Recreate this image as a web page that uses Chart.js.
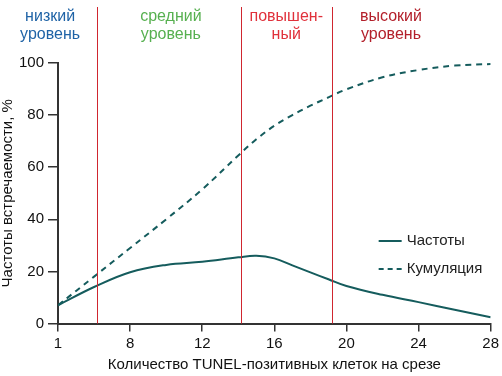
<!DOCTYPE html>
<html lang="ru">
<head>
<meta charset="UTF-8">
<title>TUNEL</title>
<script src="https://cdn.jsdelivr.net/npm/chart.js"></script>
<style>
  html, body { margin: 0; padding: 0; background: #fff; }
  #wrap { position: relative; width: 502px; height: 376px; }
</style>
</head>
<body>
<div id="wrap"><canvas id="chart" width="502" height="376"></canvas></div>
<script>
// x positions on the axis (the first tick sits where 4 would be, labelled "1")
const counts = [4, 6, 8, 10, 12, 14, 15, 16, 17, 18, 19, 20, 22, 24, 26, 28];
const freq   = [7, 14, 19.7, 22.5, 23.7, 25.4, 26, 25, 22.3, 19.6, 17, 14.4, 11, 8.2, 5.3, 2.4];
const cumul  = [7, 18, 29, 40, 51.5, 64.5, 70.7, 75.9, 80, 83.6, 86.8, 89.9, 94.5, 97.3, 99, 99.6];

const tickVals   = [4, 8, 12, 16, 20, 24, 28];
const tickLabels = ['1', '8', '12', '16', '20', '24', '28'];

// level borders and their captions
const borders = [6.14, 14.15, 19.2];
const levelNames  = [['низкий', 'уровень'], ['средний', 'уровень'], ['повышен-', 'ный'], ['высокий', 'уровень']];
const levelCenter = [3.56, 10.26, 16.66, 22.47];
const levelColors = ['#1f63a6', '#57b050', '#e0313b', '#b3202b'];

const seriesNames = ['Частоты', 'Кумуляция'];
const teal = '#155c5d';
const FONT = '"Liberation Sans", Arial, sans-serif';

const overlay = {
  id: 'overlay',
  afterDatasetsDraw(chart) {
    const { ctx, chartArea } = chart;
    const xs = chart.scales.x;
    const bottom = chartArea.bottom;
    ctx.save();
    // red border lines
    ctx.strokeStyle = '#d0262f';
    ctx.lineWidth = 1;
    borders.forEach(v => {
      const px = Math.round(xs.getPixelForValue(v)) + 0.5;
      ctx.beginPath();
      ctx.moveTo(px, 7);
      ctx.lineTo(px, bottom);
      ctx.stroke();
    });
    // level captions
    ctx.font = '16px ' + FONT;
    ctx.textAlign = 'center';
    ctx.textBaseline = 'middle';
    levelNames.forEach((lines, i) => {
      const px = xs.getPixelForValue(levelCenter[i]);
      ctx.fillStyle = levelColors[i];
      lines.forEach((t, j) => ctx.fillText(t, px, 17 + j * 18));
    });
    // legend
    const lx = chartArea.right - 112;
    const ly = chartArea.top + 178;
    ctx.font = '15px ' + FONT;
    ctx.strokeStyle = teal;
    ctx.lineWidth = 2;
    ctx.textAlign = 'left';
    ctx.fillStyle = '#222';
    ctx.beginPath();
    ctx.moveTo(lx, ly); ctx.lineTo(lx + 23, ly);
    ctx.stroke();
    ctx.fillText(seriesNames[0], lx + 28, ly);
    ctx.setLineDash([5, 4]);
    ctx.beginPath();
    ctx.moveTo(lx, ly + 28); ctx.lineTo(lx + 23, ly + 28);
    ctx.stroke();
    ctx.setLineDash([]);
    ctx.fillText(seriesNames[1], lx + 28, ly + 28);
    ctx.restore();
  }
};

new Chart(document.getElementById('chart'), {
  type: 'line',
  data: {
    datasets: [
      {
        label: seriesNames[0],
        data: counts.map((c, i) => ({ x: c, y: freq[i] })),
        borderColor: teal,
        borderWidth: 2,
        pointRadius: 0,
        tension: 0.4,
        fill: false
      },
      {
        label: seriesNames[1],
        data: counts.map((c, i) => ({ x: c, y: cumul[i] })),
        borderColor: teal,
        borderWidth: 2,
        borderDash: [6, 5],
        pointRadius: 0,
        tension: 0.4,
        fill: false
      }
    ]
  },
  options: {
    responsive: false,
    animation: false,
    layout: { padding: { top: 63, right: 7, left: 0, bottom: 3 } },
    plugins: {
      legend: { display: false },
      tooltip: { enabled: false }
    },
    scales: {
      x: {
        type: 'linear',
        min: 4,
        max: 28,
        afterBuildTicks: axis => { axis.ticks = tickVals.map(v => ({ value: v })); },
        ticks: {
          color: '#111',
          font: { family: FONT, size: 15 },
          padding: 3,
          maxRotation: 0,
          callback: v => tickLabels[tickVals.indexOf(v)]
        },
        grid: { drawOnChartArea: false, drawTicks: true, tickLength: 8, color: '#333', lineWidth: 1.5 },
        border: { color: '#333', width: 2 },
        title: {
          display: true,
          text: 'Количество TUNEL-позитивных клеток на срезе',
          color: '#111',
          font: { family: FONT, size: 15, lineHeight: 1.1 },
          padding: { top: 1, bottom: 0 }
        }
      },
      y: {
        min: 0,
        max: 100,
        ticks: {
          stepSize: 20,
          color: '#111',
          font: { family: FONT, size: 15 },
          padding: 4
        },
        grid: { drawOnChartArea: false, drawTicks: true, tickLength: 10, color: '#333', lineWidth: 1.5 },
        border: { color: '#333', width: 2 },
        title: {
          display: true,
          text: 'Частоты встречаемости, %',
          color: '#111',
          font: { family: FONT, size: 15, lineHeight: 1 },
          padding: { top: 0, bottom: 0 }
        }
      }
    }
  },
  plugins: [overlay]
});
</script>
</body>
</html>
